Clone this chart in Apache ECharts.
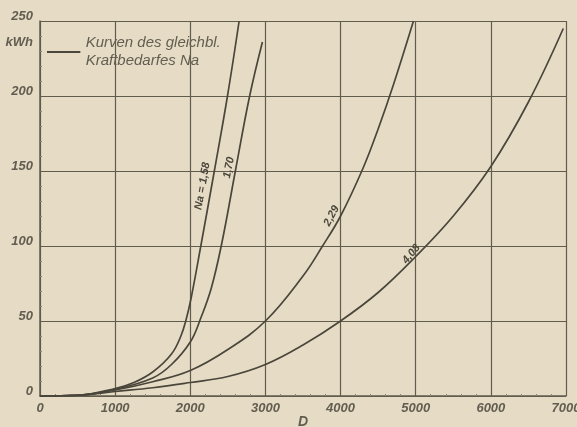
<!DOCTYPE html>
<html>
<head>
<meta charset="utf-8">
<script src="https://cdn.jsdelivr.net/npm/echarts@6/dist/echarts.min.js"></script>
<style>
html,body{margin:0;padding:0;background:#e6dcc5;}
#chart{width:577px;height:427px;}
</style>
</head>
<body>
<div id="chart"></div>
<script>
// ---- data ----
const xTicks = [0, 1000, 2000, 3000, 4000, 5000, 6000, 7000];
const yTicks = [0, 50, 100, 150, 200, 250];
const curveNames = ['Na = 1,58', '1,70', '2,29', '4,08'];
const curve158 = [[0,0],[500,0.5],[1000,5],[1250,9],[1500,16],[1750,28],[1875,40],[1950,52],[2014,66],[2140,100],[2320,150],[2495,200],[2650,250]];
const curve170 = [[0,0],[500,0.5],[1000,4.5],[1500,12],[1750,21],[2000,36],[2140,52],[2280,72],[2420,102],[2600,150],[2790,200],[2960,236]];
const curve229 = [[0,0],[500,0.5],[1000,4],[1500,9.5],[2000,17],[2500,31],[3000,50],[3500,80],[3760,100],[4000,120],[4300,152],[4500,178],[4700,207],[4970,250]];
const curve408 = [[0,0],[500,0.5],[1000,3],[1500,5.5],[2000,9],[2500,13],[3000,21],[3500,34],[4000,50],[4500,69],[5000,93],[5500,120],[6000,153],[6500,196],[6964,245]];
const labelIndex = [10, 9, 9, 10];   // which point of each curve carries its Na label
const legendText = 'Kurven des gleichbl.\nKraftbedarfes Na';
const yUnit = 'kWh';
const xName = 'D';

// ---- styles ----
const ink = '#4a463b';
const grid = '#615c4e';
const txt = '#625d50';
const font = "'Liberation Sans', 'DejaVu Sans', sans-serif";
const labelStyles = [
  {rotate: 80, offset: [-17, -9]},
  {rotate: 78, offset: [2, -7]},
  {rotate: 62, offset: [-4, -8]},
  {rotate: 50, offset: [-1, -5]}
];
const curves = [curve158, curve170, curve229, curve408];

const chart = echarts.init(document.getElementById('chart'), null, {renderer: 'canvas'});

const lineSeries = curves.map((pts, k) => ({
  type: 'line',
  name: curveNames[k],
  smooth: 0.4,
  symbol: 'circle',
  symbolSize: 1,
  showAllSymbol: true,
  silent: true,
  lineStyle: {color: ink, width: 1.7},
  itemStyle: {color: 'rgba(0,0,0,0)', borderWidth: 0},
  data: pts.map((p, i) => i === labelIndex[k] ? {
    value: p,
    label: {
      show: true, position: 'inside', formatter: curveNames[k],
      rotate: labelStyles[k].rotate, offset: labelStyles[k].offset,
      color: ink, fontFamily: font, fontStyle: 'italic', fontWeight: 'bold', fontSize: 11
    }
  } : p)
}));

// legend-only series
lineSeries.push({
  type: 'line', name: legendText, data: [], symbol: 'none',
  lineStyle: {color: ink, width: 1.7}, itemStyle: {color: ink}
});

const option = {
  backgroundColor: '#e6dcc5',
  animation: false,
  grid: {left: 40, right: 11, top: 21, bottom: 31, containLabel: false, outerBoundsMode: 'none'},
  legend: {
    data: [{name: legendText, icon: 'path://M0,0L1,0L1,0.06L0,0.06Z'}],
    left: 47, top: 34, padding: 0,
    itemWidth: 34, itemHeight: 2,
    textStyle: {color: txt, fontFamily: font, fontStyle: 'italic', fontSize: 15, lineHeight: 18}
  },
  xAxis: {
    type: 'value', min: 0, max: 7000, interval: 1000,
    name: xName, nameLocation: 'middle', nameGap: 19, nameMoveOverlap: false,
    nameTextStyle: {color: txt, fontFamily: font, fontStyle: 'italic', fontWeight: 'bold', fontSize: 14, verticalAlign: 'top'},
    axisLine: {show: true, lineStyle: {color: grid, width: 1.5}},
    axisTick: {show: false, inside: true},
    minorTick: {show: true, splitNumber: 5, length: 2, lineStyle: {color: '#8a8470', width: 1}},
    splitLine: {show: true, lineStyle: {color: grid, width: 1.2}},
    axisLabel: {
      margin: 6, color: txt, fontFamily: font, fontStyle: 'italic', fontWeight: 'bold', fontSize: 13,
      formatter: v => xTicks.includes(v) ? String(v) : ''
    }
  },
  yAxis: {
    type: 'value', min: 0, max: 250, interval: 50,
    axisLine: {show: true, lineStyle: {color: grid, width: 1.5}},
    axisTick: {show: false, inside: true},
    minorTick: {show: true, splitNumber: 5, length: 2, lineStyle: {color: '#8a8470', width: 1}},
    splitLine: {show: true, lineStyle: {color: grid, width: 1.2}},
    axisLabel: {
      margin: 7, color: txt, fontFamily: font, fontStyle: 'italic', fontWeight: 'bold', fontSize: 13,
      verticalAlign: 'bottom', lineHeight: 10,
      formatter: v => yTicks.includes(v) ? String(v) : ''
    }
  },
  graphic: [{
    type: 'text', right: 577 - 33, top: 36,
    style: {text: yUnit, fill: txt, font: "italic bold 13px 'Liberation Sans', sans-serif"}
  }],
  series: lineSeries
};
chart.setOption(option);
</script>
</body>
</html>
